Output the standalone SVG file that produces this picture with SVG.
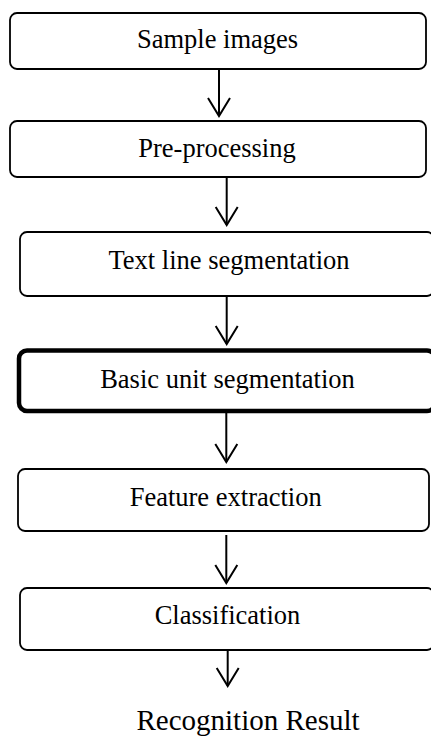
<svg xmlns="http://www.w3.org/2000/svg" width="431" height="736" viewBox="0 0 431 736">
<style>
.box{fill:#fff;stroke:#000;stroke-width:1.8}
.thick{stroke-width:4.5}
.lbl{font-family:"Liberation Serif","Times New Roman",serif;font-size:26.5px;fill:#000;text-anchor:middle}
.res{font-size:29px}
.conn{stroke:#000;stroke-width:2;fill:none}
</style>
<defs>
<marker id="v" markerUnits="userSpaceOnUse" orient="auto" refX="0" refY="0" markerWidth="40" markerHeight="40" viewBox="-20 -20 40 40" overflow="visible">
<path d="M-18,-11 L0,0 L-18,11" fill="none" stroke="#000" stroke-width="2"/>
</marker>
</defs>
<rect width="431" height="736" fill="#fff"/>
<g id="connectors">
<line class="conn" x1="219" y1="69" x2="219" y2="116" marker-end="url(#v)"/>
<line class="conn" x1="226.7" y1="177" x2="226.7" y2="225" marker-end="url(#v)"/>
<line class="conn" x1="226.7" y1="296" x2="226.7" y2="344" marker-end="url(#v)"/>
<line class="conn" x1="226.3" y1="413" x2="226.3" y2="462" marker-end="url(#v)"/>
<line class="conn" x1="226.3" y1="535" x2="226.3" y2="583" marker-end="url(#v)"/>
<line class="conn" x1="227.7" y1="650" x2="227.7" y2="686" marker-end="url(#v)"/>
</g>
<g id="n1"><rect class="box" x="10" y="13" width="416" height="56" rx="7"/><text class="lbl" x="217.5" y="48">Sample images</text></g>
<g id="n2"><rect class="box" x="10" y="121" width="416" height="56" rx="7"/><text class="lbl" x="217" y="157">Pre-processing</text></g>
<g id="n3"><rect class="box" x="20" y="232" width="414" height="64" rx="7"/><text class="lbl" x="229" y="269">Text line segmentation</text></g>
<g id="n4"><rect class="box thick" x="19" y="350.5" width="416" height="60.5" rx="8"/><text class="lbl" x="227.5" y="388">Basic unit segmentation</text></g>
<g id="n5"><rect class="box" x="18" y="469" width="411" height="62" rx="7"/><text class="lbl" x="225.7" y="506">Feature extraction</text></g>
<g id="n6"><rect class="box" x="20" y="588" width="414" height="62" rx="7"/><text class="lbl" x="227.5" y="624">Classification</text></g>
<g id="n7"><text class="lbl res" x="248" y="730">Recognition Result</text></g>
</svg>
